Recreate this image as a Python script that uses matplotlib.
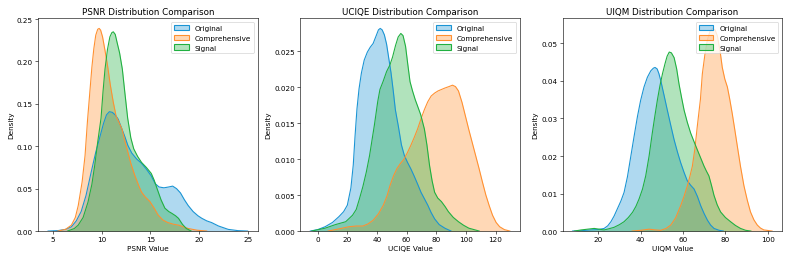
import matplotlib
matplotlib.use("Agg")
import matplotlib.pyplot as plt
import matplotlib.patches as mpatches
import matplotlib.colors as mcolors

series_names = ["Original", "Comprehensive", "Signal"]
colors = ["#1a94d4", "#ff9030", "#20b040"]
fill_alpha = 0.35

# PSNR density curves (x, density)
psnr_orig_x = [4.5, 5.5, 6.3, 6.9, 7.4, 7.9, 8.4, 8.9, 9.4, 9.8, 10.2, 10.5, 10.8, 11.1, 11.4, 11.7, 12.0, 12.4, 12.7, 13.1, 13.6, 14.1, 14.6, 15.1, 15.5, 15.9, 16.4, 16.9, 17.3, 17.7, 18.1, 18.5, 18.9, 19.4, 19.9, 20.3, 20.8, 21.3, 22.0, 23.0, 24.0, 25.0]
psnr_orig_y = [0.0, 0.0005, 0.002, 0.005, 0.012, 0.023, 0.042, 0.068, 0.093, 0.110, 0.127, 0.137, 0.1408, 0.140, 0.137, 0.132, 0.123, 0.111, 0.101, 0.092, 0.085, 0.080, 0.073, 0.065, 0.056, 0.052, 0.051, 0.052, 0.053, 0.050, 0.045, 0.037, 0.030, 0.023, 0.018, 0.015, 0.012, 0.010, 0.006, 0.002, 0.0005, 0.0]
psnr_comp_x = [5.5, 6.3, 6.9, 7.3, 7.6, 8.0, 8.3, 8.55, 8.8, 9.0, 9.2, 9.4, 9.6, 9.75, 9.9, 10.1, 10.35, 10.6, 10.9, 11.2, 11.5, 11.8, 12.1, 12.4, 12.7, 13.0, 13.4, 13.8, 14.1, 14.5, 14.95, 15.4, 15.8, 16.3, 16.8, 17.4, 17.9, 18.4, 18.9, 19.8, 20.8]
psnr_comp_y = [0.0, 0.002, 0.007, 0.016, 0.030, 0.058, 0.089, 0.130, 0.165, 0.193, 0.215, 0.231, 0.238, 0.239, 0.237, 0.229, 0.213, 0.196, 0.172, 0.152, 0.135, 0.128, 0.120, 0.106, 0.093, 0.080, 0.066, 0.054, 0.046, 0.040, 0.035, 0.027, 0.019, 0.013, 0.010, 0.008, 0.007, 0.005, 0.003, 0.001, 0.0]
psnr_sig_x = [6.5, 7.2, 7.6, 8.1, 8.6, 9.0, 9.3, 9.6, 9.94, 10.15, 10.35, 10.6, 10.85, 11.05, 11.2, 11.4, 11.6, 11.85, 12.13, 12.4, 12.68, 13.0, 13.3, 13.7, 14.1, 14.6, 15.1, 15.4, 15.7, 16.1, 16.5, 16.9, 17.2, 17.6, 17.9, 18.3, 18.7, 19.2]
psnr_sig_y = [0.0, 0.003, 0.007, 0.016, 0.034, 0.055, 0.078, 0.105, 0.133, 0.165, 0.191, 0.214, 0.229, 0.234, 0.235, 0.232, 0.222, 0.210, 0.191, 0.162, 0.133, 0.110, 0.097, 0.088, 0.081, 0.075, 0.068, 0.060, 0.050, 0.037, 0.027, 0.023, 0.021, 0.018, 0.015, 0.008, 0.003, 0.0]

# UCIQE density curves
uciqe_orig_x = [-5, 0, 5, 10, 14.3, 17.5, 20, 22.4, 24, 25.2, 26.5, 27.9, 29.5, 31.4, 33.5, 35.5, 37.4, 39.5, 41, 42.2, 43.5, 45, 46.5, 48, 49.5, 51, 52.4, 54.5, 56.5, 58.5, 60.5, 63, 65, 67.5, 69.7, 72, 74.3, 76.5, 78.9, 82, 85.8, 90]
uciqe_orig_y = [0.0, 0.0002, 0.0006, 0.0012, 0.0020, 0.0027, 0.0036, 0.0060, 0.0092, 0.0132, 0.0170, 0.0198, 0.0220, 0.0238, 0.0249, 0.0256, 0.0261, 0.0272, 0.0280, 0.0282, 0.0280, 0.0273, 0.0260, 0.0240, 0.0220, 0.0195, 0.0169, 0.0145, 0.0120, 0.0105, 0.0096, 0.0086, 0.0077, 0.0065, 0.0054, 0.0045, 0.0036, 0.0026, 0.0017, 0.0009, 0.0004, 0.0]
uciqe_comp_x = [7, 14.3, 21, 26, 30.5, 34, 37.4, 41, 44.3, 46.8, 48.9, 51.2, 53.5, 55.8, 58.2, 60.5, 62.8, 65.1, 67.4, 69.7, 72, 74.3, 76.6, 78.9, 81.2, 83.5, 85.8, 88.5, 91, 93, 95, 97.4, 99.7, 102, 104.3, 106.6, 108.9, 111.2, 113.5, 115.8, 118, 120.4, 122.8, 126, 129.7]
uciqe_comp_y = [0.0, 0.0003, 0.0006, 0.0007, 0.0007, 0.0010, 0.0015, 0.0024, 0.0036, 0.0049, 0.0064, 0.0077, 0.0087, 0.0094, 0.0100, 0.0109, 0.0119, 0.0130, 0.0142, 0.0156, 0.0169, 0.0180, 0.0188, 0.0192, 0.0195, 0.0197, 0.0199, 0.0201, 0.0203, 0.0201, 0.0195, 0.0179, 0.0160, 0.0141, 0.0123, 0.0105, 0.0087, 0.0068, 0.0050, 0.0035, 0.0022, 0.0012, 0.0006, 0.0002, 0.0]
uciqe_sig_x = [-4, 5, 12, 18.9, 23.5, 26, 28.2, 30.5, 32.8, 35, 38.3, 40.5, 42, 44.1, 46.5, 48.7, 50.5, 52.5, 54.3, 56.1, 57.6, 59.3, 60.8, 62.3, 64, 65.8, 67.4, 69.5, 72, 73.7, 75.5, 77.2, 78.9, 81, 83.5, 86, 88.2, 91.5, 95, 98.5, 102, 109]
uciqe_sig_y = [0.0, 0.0004, 0.0009, 0.0013, 0.0022, 0.0030, 0.0045, 0.0062, 0.0082, 0.0105, 0.0148, 0.0180, 0.0197, 0.0208, 0.0222, 0.0231, 0.0242, 0.0258, 0.0270, 0.0275, 0.0272, 0.0257, 0.0232, 0.0208, 0.0195, 0.0183, 0.0174, 0.0162, 0.0142, 0.0120, 0.0091, 0.0070, 0.0054, 0.0046, 0.0041, 0.0034, 0.0027, 0.0019, 0.0013, 0.0008, 0.0004, 0.0]

# UIQM density curves
uiqm_orig_x = [7.9, 12, 16.5, 20, 22.8, 24.5, 26, 27.5, 29.1, 30.7, 32.2, 33.8, 35.4, 37, 38.5, 40, 41.6, 43.2, 44.8, 46, 46.8, 47.8, 48.6, 49.5, 51, 52.6, 54.2, 55.8, 57.4, 58.9, 60.5, 62, 63.6, 65.2, 66.8, 68.3, 69.9, 71.5, 73, 74.6, 77, 79]
uiqm_orig_y = [0.0, 0.0001, 0.0003, 0.0004, 0.0007, 0.0014, 0.0025, 0.0040, 0.0060, 0.0080, 0.0103, 0.0145, 0.0200, 0.0255, 0.0305, 0.0348, 0.0384, 0.0410, 0.0427, 0.0434, 0.0436, 0.0432, 0.0420, 0.0401, 0.0363, 0.0322, 0.0282, 0.0243, 0.0210, 0.0182, 0.0156, 0.0134, 0.0122, 0.0112, 0.0092, 0.0068, 0.0047, 0.0029, 0.0016, 0.0007, 0.0002, 0.0]
uiqm_comp_x = [36, 40, 44, 47, 49.5, 52, 54.2, 56.5, 58.9, 60.5, 62, 63.2, 64.4, 65.6, 66.7, 68.2, 69.1, 70.3, 71.5, 72.7, 73.9, 75.1, 76.2, 77.6, 78.5, 79.7, 80.9, 82, 83.2, 84.4, 85.6, 87.1, 88.7, 90.3, 91.8, 93.4, 95, 96.5, 98.1, 102]
uiqm_comp_y = [0.0, 0.0002, 0.0005, 0.0003, 0.0002, 0.0007, 0.0016, 0.0035, 0.0068, 0.0093, 0.0120, 0.0145, 0.0173, 0.0220, 0.0278, 0.0351, 0.0419, 0.0470, 0.0510, 0.0532, 0.0540, 0.0536, 0.0520, 0.0474, 0.0436, 0.0405, 0.0384, 0.0352, 0.0313, 0.0270, 0.0226, 0.0172, 0.0121, 0.0082, 0.0051, 0.0030, 0.0016, 0.0008, 0.0003, 0.0]
uiqm_sig_x = [8.7, 12, 15, 18.1, 20.5, 22.8, 25, 27.5, 30, 32.2, 34.2, 36.2, 37.8, 39.3, 40.9, 42.4, 44, 45.5, 46.7, 47.9, 49.1, 50.3, 51.5, 52.5, 53.5, 54.5, 55.8, 57, 58.1, 59.3, 60.5, 62, 63.6, 65.2, 66.7, 68.3, 69.9, 71, 72.2, 73.4, 74.6, 76.1, 77.7, 80, 82.4, 84.7, 87.1, 89.5, 92]
uiqm_sig_y = [0.0, 0.0003, 0.0005, 0.0007, 0.0005, 0.0003, 0.0006, 0.0010, 0.0017, 0.0025, 0.0036, 0.0050, 0.0066, 0.0086, 0.0112, 0.0147, 0.0200, 0.0261, 0.0306, 0.0349, 0.0387, 0.0419, 0.0446, 0.0466, 0.0477, 0.0475, 0.0462, 0.0432, 0.0392, 0.0356, 0.0322, 0.0290, 0.0261, 0.0238, 0.0217, 0.0195, 0.0173, 0.0160, 0.0147, 0.0122, 0.0095, 0.0070, 0.0051, 0.0036, 0.0025, 0.0015, 0.0007, 0.0002, 0.0]

metrics = ["PSNR", "UCIQE", "UIQM"]
curves = {
    "PSNR": [(psnr_orig_x, psnr_orig_y), (psnr_comp_x, psnr_comp_y), (psnr_sig_x, psnr_sig_y)],
    "UCIQE": [(uciqe_orig_x, uciqe_orig_y), (uciqe_comp_x, uciqe_comp_y), (uciqe_sig_x, uciqe_sig_y)],
    "UIQM": [(uiqm_orig_x, uiqm_orig_y), (uiqm_comp_x, uiqm_comp_y), (uiqm_sig_x, uiqm_sig_y)],
}

W, H = 15.0, 15.0 * 260 / 790
DPI = 790 / W
fig, axes = plt.subplots(1, 3, figsize=(W, H), dpi=DPI)
for ax, m in zip(axes, metrics):
    for (xs, ys), name, c in zip(curves[m], series_names, colors):
        ax.fill_between(xs, ys, 0, color=c, alpha=fill_alpha, linewidth=0)
        ax.plot(xs, ys, color=c, linewidth=1.5)
    ax.set_title(f"{m} Distribution Comparison", fontsize=12)
    ax.set_xlabel(f"{m} Value", fontsize=10)
    ax.set_ylabel("Density", fontsize=10)
    ax.tick_params(labelsize=10)
    h = [mpatches.Patch(facecolor=mcolors.to_rgba(c, fill_alpha), edgecolor=c, linewidth=1.5) for c in colors]
    ax.legend(h, series_names, loc="upper right", fontsize=10)
    ax.margins(x=0.05)
    ymax = max(max(ys) for _, ys in curves[m])
    ax.set_ylim(0, ymax * 1.05)

fig.tight_layout()
fig.savefig("out.png", dpi=DPI)
